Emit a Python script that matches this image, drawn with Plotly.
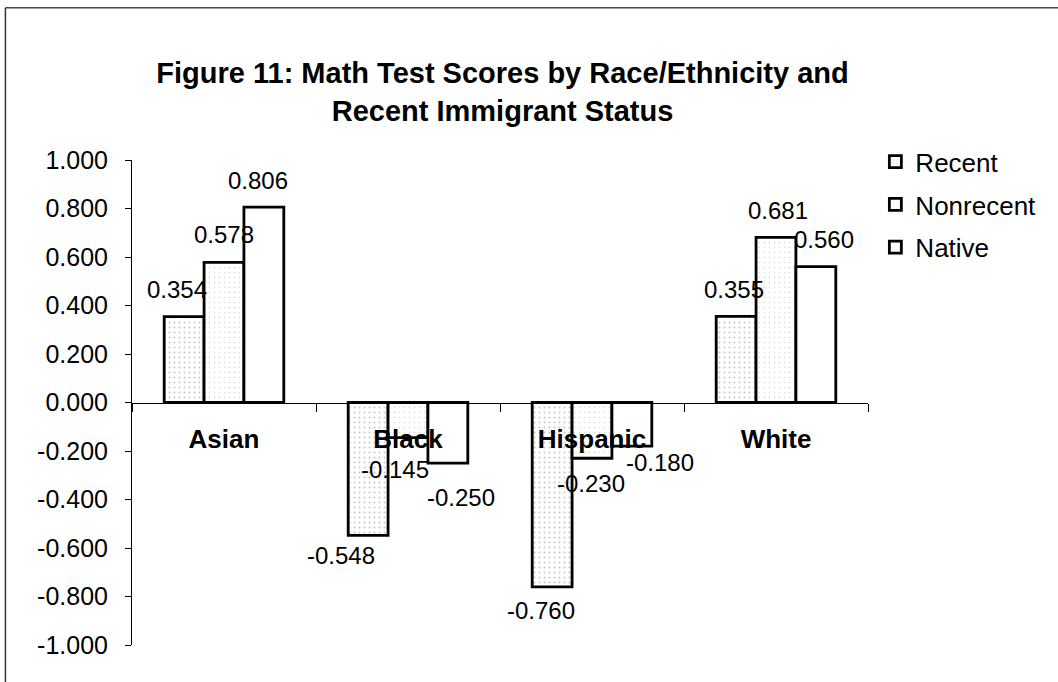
import plotly.graph_objects as go

# Category and series data
categories = ["Asian", "Black", "Hispanic", "White"]
recent = [0.354, -0.548, -0.760, 0.355]
nonrecent = [0.578, -0.145, -0.230, 0.681]
native = [0.806, -0.250, -0.180, 0.560]

series_names = ["Recent", "Nonrecent", "Native"]
y_ticks = [1.0, 0.8, 0.6, 0.4, 0.2, 0.0, -0.2, -0.4, -0.6, -0.8, -1.0]

# Hand nudges for the value labels (pixels), per series and category
label_dx = [[-7, -27, -11, -2], [0, -13, -1, 2], [-6, 13, 28, 8]]
label_dy = [[27, -20, -24, 27], [28, -32, -25, 27], [27, -34, -16, 27]]

FONT = "Liberation Sans, Arial, sans-serif"

W, H = 1058, 682
M = dict(l=132, r=190, t=160, b=37)
BARGAP = 0.35

styles = {
    "Recent": dict(fg="#8a8a8a", solidity=0.12),
    "Nonrecent": dict(fg="#b0b0b0", solidity=0.08),
    "Native": None,
}

fig = go.Figure()
all_series = [recent, nonrecent, native]
for name, vals in zip(series_names, all_series):
    st = styles[name]
    marker = dict(color="white", line=dict(color="black", width=2.8))
    if st:
        marker["pattern"] = dict(shape=".", fgcolor=st["fg"], bgcolor="white",
                                 size=5, solidity=st["solidity"])
    fig.add_trace(go.Bar(
        name=name, x=categories, y=vals,
        marker=marker, legendgroup=name,
    ))

# Value labels drawn as annotations so they sit above neighbouring bars
plot_w = W - M["l"] - M["r"]
bar_px = plot_w / len(categories) * (1 - BARGAP) / len(series_names)
annotations = []
for si, vals in enumerate(all_series):
    base_shift = (si - (len(series_names) - 1) / 2) * bar_px
    for ci, (cat, v) in enumerate(zip(categories, vals)):
        annotations.append(dict(
            x=cat, y=v, xref="x", yref="y",
            text=f"{v:.3f}", showarrow=False,
            xanchor="center", yanchor="middle",
            xshift=base_shift + label_dx[si][ci], yshift=label_dy[si][ci],
            font=dict(family=FONT, size=24, color="black"),
        ))

fig.update_layout(
    width=W, height=H,
    margin=M,
    paper_bgcolor="white", plot_bgcolor="white",
    font=dict(family=FONT, color="black"),
    barmode="group", bargap=BARGAP, bargroupgap=0,
    title=dict(
        text="<b>Figure 11: Math Test Scores by Race/Ethnicity and<br>Recent Immigrant Status</b>",
        x=0.475, xanchor="center", y=0.878, yanchor="middle",
        font=dict(family=FONT, size=29, color="black"),
    ),
    showlegend=True,
    legend=dict(
        x=1.01, xanchor="left", y=1.045, yanchor="top",
        font=dict(family=FONT, size=26, color="black"),
        traceorder="grouped", tracegroupgap=6,
        bgcolor="rgba(0,0,0,0)",
    ),
    xaxis=dict(
        anchor="free", position=0.5,
        showline=True, linecolor="black", linewidth=1,
        ticks="outside", ticklen=8, tickcolor="black", tickson="boundaries",
        tickfont=dict(family=FONT, size=26, color="black", weight="bold"),
        ticklabelstandoff=13,
        showgrid=False, zeroline=False,
    ),
    yaxis=dict(
        range=[-1.0, 1.0],
        tickvals=y_ticks, ticktext=[f"{v:.3f}" for v in y_ticks],
        showline=True, linecolor="black", linewidth=1,
        ticks="outside", ticklen=6, tickcolor="black",
        tickfont=dict(family=FONT, size=25, color="black"),
        ticklabelstandoff=12,
        showgrid=False, zeroline=False,
    ),
    annotations=annotations,
    shapes=[
        dict(type="line", xref="paper", yref="paper",
             x0=-0.172, x1=-0.172, y0=1.314, y1=-0.08,
             line=dict(color="#333", width=1.5)),
        dict(type="line", xref="paper", yref="paper",
             x0=-0.172, x1=1.26, y0=1.314, y1=1.314,
             line=dict(color="#444", width=1.5)),
    ],
)

fig.write_html("out.html")
